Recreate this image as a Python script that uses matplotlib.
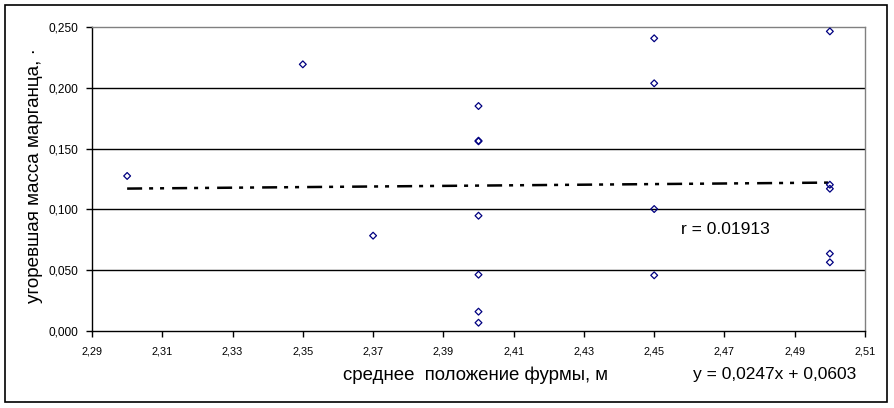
import matplotlib
matplotlib.use("Agg")
import matplotlib.pyplot as plt
from matplotlib.patches import Rectangle
import numpy as np

plt.rcParams['font.family'] = ['Liberation Sans', 'DejaVu Sans']
plt.rcParams['lines.scale_dashes'] = False

x_pos = [2.30, 2.35, 2.37,
         2.40, 2.40, 2.40, 2.40, 2.40, 2.40, 2.40,
         2.45, 2.45, 2.45, 2.45,
         2.50, 2.50, 2.50, 2.50, 2.50]
mn_loss = [0.1275, 0.2193, 0.0784,
           0.185, 0.1565, 0.156, 0.0948, 0.0463, 0.0159, 0.0068,
           0.2407, 0.2037, 0.1003, 0.0458,
           0.2464, 0.1203, 0.117, 0.0636, 0.0565]
trend_slope = 0.0247
trend_intercept = 0.0603
x_ticks = [2.29, 2.31, 2.33, 2.35, 2.37, 2.39, 2.41, 2.43, 2.45, 2.47, 2.49, 2.51]
y_ticks = [0.0, 0.05, 0.10, 0.15, 0.20, 0.25]

W, H = 894, 408
fig = plt.figure(figsize=(W/100, H/100), dpi=100)
# outer border
fig.patches.append(Rectangle((5/W, 1 - 402/H), 882/W, 397/H, transform=fig.transFigure,
                             fill=False, edgecolor='black', linewidth=1.2))

L, R, T, B = 92, 865, 27, 331
ax = fig.add_axes([L/W, 1 - B/H, (R-L)/W, (B-T)/H])
ax.set_xlim(2.29, 2.51)
ax.set_ylim(0, 0.25)

for yv in y_ticks[1:-1]:
    ax.axhline(yv, color='black', linewidth=1.0, zorder=1)

ax.spines['top'].set_color('#808080')
ax.spines['right'].set_color('#808080')
ax.spines['left'].set_color('black')
ax.spines['bottom'].set_color('black')
for s in ax.spines.values():
    s.set_linewidth(1.0)

ax.scatter(x_pos, mn_loss, marker='D', s=12, facecolors='none', edgecolors='#000080',
           linewidths=0.9, zorder=3)

xt = np.array([min(x_pos), max(x_pos)])
ax.plot(xt, trend_slope * xt + trend_intercept, color='black', linewidth=1.8,
        dashes=(10.8, 5.0, 2.9, 5.0, 2.9, 5.8), dash_capstyle='butt', zorder=2)

ax.set_xticks(x_ticks)
ax.set_xticklabels([f"{v:.2f}".replace('.', ',') for v in x_ticks], fontsize=7.8)
ax.set_yticks(y_ticks)
ax.set_yticklabels([f"{v:.3f}".replace('.', ',') for v in y_ticks], fontsize=8.6)
ax.tick_params(axis='both', direction='out', length=4, width=1, colors='black', pad=6)
ax.tick_params(axis='x', pad=7)

fig.text(343/W, 1 - 375/H, "среднее  положение фурмы, м", fontsize=13.4,
         ha='left', va='center')
fig.text(693/W, 1 - 375/H, "y = 0,0247x + 0,0603", fontsize=12.5, ha='left', va='center')
fig.text(681/W, 1 - 229/H, "r = 0.01913", fontsize=12.5, ha='left', va='center')
fig.text(35/W, 1 - 176/H, "угоревшая масса марганца, ·", fontsize=13.6, rotation=90,
         ha='center', va='center')

fig.savefig("out.png", dpi=100)
